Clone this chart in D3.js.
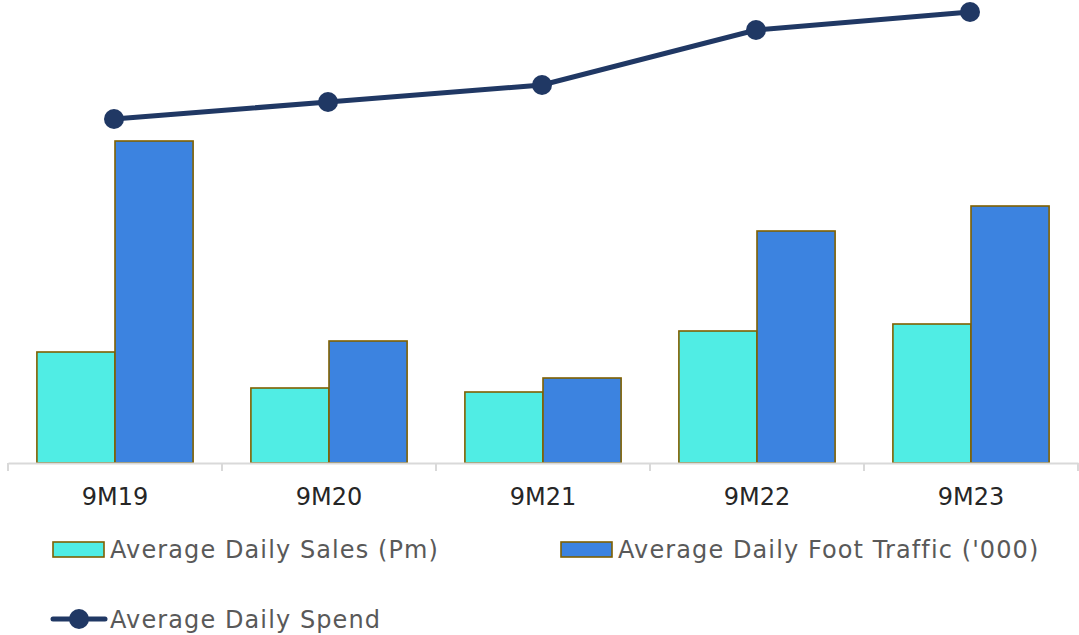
<!DOCTYPE html>
<html><head><meta charset="utf-8">
<script src="https://cdn.jsdelivr.net/npm/d3@7"></script>
<style>body{margin:0;background:#fff}svg{display:block}</style>
</head><body><svg id="c" width="1079" height="635"></svg>
<script>
const categories = ["9M19","9M20","9M21","9M22","9M23"];
const salesValues = [111, 75, 71, 132, 139];
const trafficValues = [322, 122, 85, 232, 257];
const spendValues = [344, 361, 378, 433, 451];
const seriesNames = ["Average Daily Sales (Pm)", "Average Daily Foot Traffic ('000)", "Average Daily Spend"];

const svg = d3.select("#c");
const FONT = "DejaVu Sans";
const baseY = 463, left = 8, right = 1078;
const x = d3.scaleBand().domain(categories).range([left, right]).paddingInner(0).paddingOuter(0);
const x1 = d3.scaleBand().domain(["s","t"]).range([0, x.bandwidth()]).paddingOuter(0.37).paddingInner(0);
const y = d3.scaleLinear().domain([0, 400]).range([baseY, baseY - 400]);
const y2 = d3.scaleLinear().domain([0, 463]).range([baseY, 0]);

const g = svg.append("g");
const cols = {s:"#50EDE4", t:"#3C83E0"};
categories.forEach((c,i)=>{
  [["s",salesValues[i]],["t",trafficValues[i]]].forEach(([k,v])=>{
    g.append("rect").attr("x", x(c)+x1(k)).attr("y", y(v)).attr("width", x1.bandwidth()).attr("height", baseY - y(v))
     .attr("fill", cols[k]).attr("stroke", "#7F6000").attr("stroke-width", 1.6);
  });
});

const axis = d3.axisBottom(x).tickSize(0).tickPadding(0);
const ax = svg.append("g").attr("transform", `translate(0,${baseY})`).call(axis);
ax.select(".domain").attr("stroke", "#D9D9D9").attr("stroke-width", 2);
ax.selectAll(".tick text").attr("y", 42).attr("font-family", FONT).attr("font-size", 24).attr("fill", "#262626").attr("dy", 0);
const bounds = categories.map(c=>x(c)).concat([right]);
ax.selectAll("line.b").data(bounds).join("line").attr("class","b")
  .attr("x1", d=>d).attr("x2", d=>d).attr("y1", 0).attr("y2", 8).attr("stroke", "#D9D9D9").attr("stroke-width", 2);

const px = (i)=>x(categories[i]) + x.bandwidth()/2 - 1;
const line = d3.line().x((d,i)=>px(i)).y(d=>y2(d));
svg.append("path").datum(spendValues).attr("d", line).attr("fill","none").attr("stroke","#203864").attr("stroke-width",5).attr("stroke-linecap","round");
svg.selectAll("circle.p").data(spendValues).join("circle").attr("class","p")
  .attr("cx",(d,i)=>px(i)).attr("cy", d=>y2(d)).attr("r", 10).attr("fill","#203864");

// legend
const lg = svg.append("g").attr("font-family", FONT).attr("font-size", 24).attr("fill", "#595959").attr("letter-spacing", 1.1);
lg.append("rect").attr("x",53).attr("y",542).attr("width",51).attr("height",15).attr("fill",cols.s).attr("stroke","#7F6000").attr("stroke-width",1.6);
lg.append("text").attr("x",110).attr("y",558).text(seriesNames[0]);
lg.append("rect").attr("x",561).attr("y",542).attr("width",51).attr("height",15).attr("fill",cols.t).attr("stroke","#7F6000").attr("stroke-width",1.6);
lg.append("text").attr("x",618).attr("y",558).text(seriesNames[1]);
lg.append("line").attr("x1",53).attr("x2",105).attr("y1",619).attr("y2",619).attr("stroke","#203864").attr("stroke-width",5).attr("stroke-linecap","round");
lg.append("circle").attr("cx",79).attr("cy",619).attr("r",10).attr("fill","#203864");
lg.append("text").attr("x",110).attr("y",628).text(seriesNames[2]);
</script></body></html>
